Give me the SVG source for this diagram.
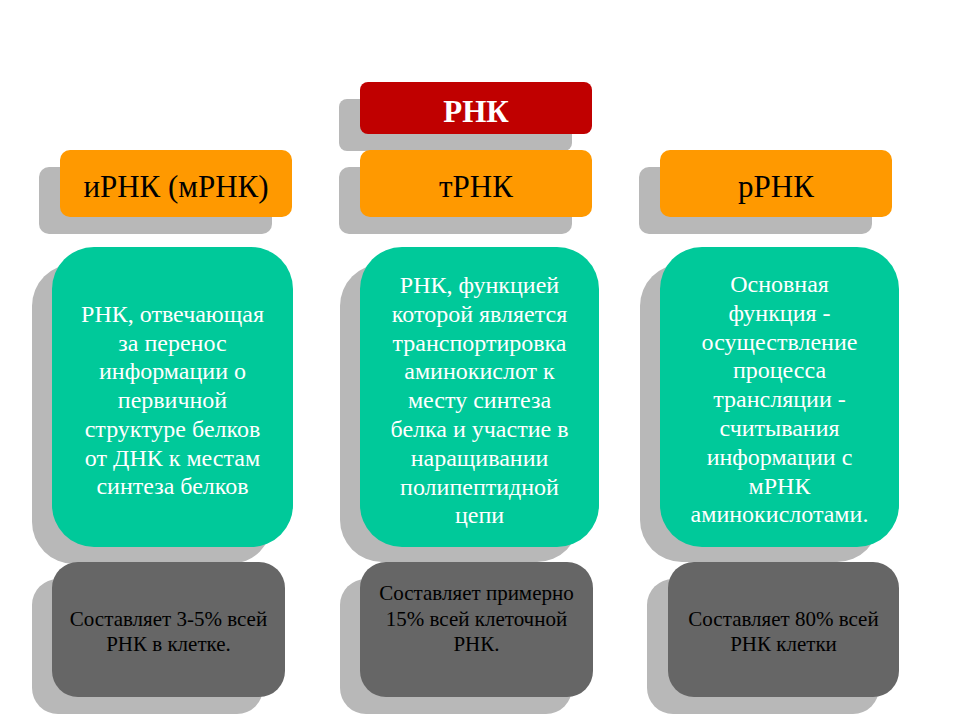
<svg xmlns="http://www.w3.org/2000/svg" width="960" height="720" viewBox="0 0 960 720">
<style>
.sh{fill:#B8B8B8}
.red{fill:#C00000}
.org{fill:#FF9900}
.grn{fill:#00C99A}
.drk{fill:#666666}
text{font-family:'Liberation Serif','DejaVu Serif',serif;text-anchor:middle}
.hd{font-size:31px;fill:#000}
.tt{font-size:31px;font-weight:bold;fill:#fff}
.bd{font-size:24px;fill:#fff}
.ft{font-size:21px;fill:#000}
</style>
<rect width="960" height="720" fill="#fff"/>
<g id="rnk">
<rect class="sh" x="339" y="99" width="233" height="52" rx="8"/>
<rect class="red" x="360" y="82" width="232" height="52" rx="8"/>
<text class="tt" x="476" y="122">РНК</text>
</g>
<g id="irnk-header">
<rect class="sh" x="39" y="167" width="233" height="67" rx="10"/>
<rect class="org" x="60" y="150" width="232" height="67" rx="10"/>
<text class="hd" x="176" y="197">иРНК (мРНК)</text>
</g>
<g id="trnk-header">
<rect class="sh" x="339" y="167" width="233" height="67" rx="10"/>
<rect class="org" x="360" y="150" width="232" height="67" rx="10"/>
<text class="hd" x="476" y="197">тРНК</text>
</g>
<g id="rrnk-header">
<rect class="sh" x="639" y="167" width="233" height="67" rx="10"/>
<rect class="org" x="660" y="150" width="232" height="67" rx="10"/>
<text class="hd" x="776" y="197">рРНК</text>
</g>
<g id="irnk-desc">
<rect class="sh" x="32" y="264" width="240" height="300" rx="42"/>
<rect class="grn" x="52" y="247" width="241" height="300" rx="42"/>
<text class="bd" x="172.5" y="322">РНК, отвечающая</text>
<text class="bd" x="172.5" y="350.7">за перенос</text>
<text class="bd" x="172.5" y="379.4">информации о</text>
<text class="bd" x="172.5" y="408.1">первичной</text>
<text class="bd" x="172.5" y="436.8">структуре белков</text>
<text class="bd" x="172.5" y="465.5">от ДНК к местам</text>
<text class="bd" x="172.5" y="494.2">синтеза белков</text>
</g>
<g id="trnk-desc">
<rect class="sh" x="340" y="264" width="239" height="298" rx="42"/>
<rect class="grn" x="360" y="247" width="239" height="300" rx="42"/>
<text class="bd" x="479.5" y="293">РНК, функцией</text>
<text class="bd" x="479.5" y="321.8">которой является</text>
<text class="bd" x="479.5" y="350.6">транспортировка</text>
<text class="bd" x="479.5" y="379.4">аминокислот к</text>
<text class="bd" x="479.5" y="408.2">месту синтеза</text>
<text class="bd" x="479.5" y="437">белка и участие в</text>
<text class="bd" x="479.5" y="465.8">наращивании</text>
<text class="bd" x="479.5" y="494.6">полипептидной</text>
<text class="bd" x="479.5" y="523.4">цепи</text>
</g>
<g id="rrnk-desc">
<rect class="sh" x="640" y="264" width="239" height="298" rx="42"/>
<rect class="grn" x="660" y="247" width="239" height="300" rx="42"/>
<text class="bd" x="779.5" y="292">Основная</text>
<text class="bd" x="779.5" y="320.8">функция -</text>
<text class="bd" x="779.5" y="349.6">осуществление</text>
<text class="bd" x="779.5" y="378.4">процесса</text>
<text class="bd" x="779.5" y="407.2">трансляции -</text>
<text class="bd" x="779.5" y="436">считывания</text>
<text class="bd" x="779.5" y="464.8">информации с</text>
<text class="bd" x="779.5" y="493.6">мРНК</text>
<text class="bd" x="779.5" y="522.4">аминокислотами.</text>
</g>
<g id="irnk-share">
<rect class="sh" x="32" y="579" width="231" height="135" rx="26"/>
<rect class="drk" x="52" y="562" width="233" height="135" rx="26"/>
<text class="ft" x="168.5" y="626">Составляет 3-5% всей</text>
<text class="ft" x="168.5" y="651">РНК в клетке.</text>
</g>
<g id="trnk-share">
<rect class="sh" x="340" y="579" width="232" height="135" rx="26"/>
<rect class="drk" x="360" y="562" width="233" height="135" rx="26"/>
<text class="ft" x="476.5" y="600">Составляет примерно</text>
<text class="ft" x="476.5" y="625.5">15% всей клеточной</text>
<text class="ft" x="476.5" y="651">РНК.</text>
</g>
<g id="rrnk-share">
<rect class="sh" x="647" y="579" width="232" height="135" rx="26"/>
<rect class="drk" x="668" y="562" width="231" height="135" rx="26"/>
<text class="ft" x="783.5" y="626">Составляет 80% всей</text>
<text class="ft" x="783.5" y="651">РНК клетки</text>
</g>
<g id="connectors"></g>
</svg>
